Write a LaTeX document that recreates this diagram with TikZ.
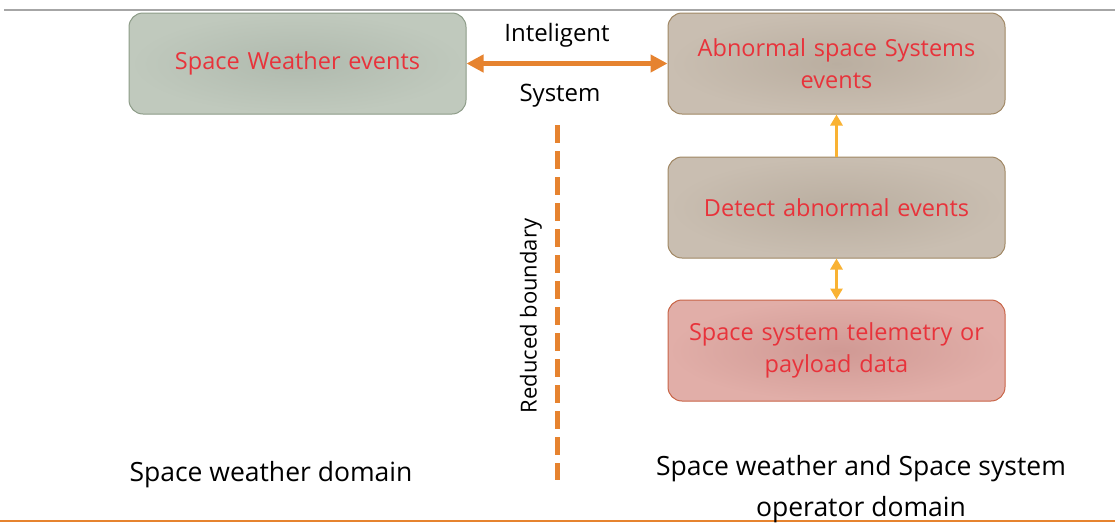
\documentclass[tikz,border=0pt]{standalone}
\usepackage{fontspec}
\setmainfont{Open Sans}
\usetikzlibrary{arrows.meta}
\definecolor{evred}{HTML}{E8333B}
\definecolor{linkorange}{HTML}{E6832F}
\definecolor{linkyellow}{HTML}{F9B233}
\tikzset{
  evbox/.style={rounded corners=14pt, minimum width=337pt, minimum height=101pt,
    text width=330pt, align=center, text=evred, line width=1pt,
    font=\fontsize{23.5}{32}\selectfont},
  greenbox/.style={evbox, draw={rgb,255:red,140;green,155;blue,135}, inner color={rgb,255:red,176;green,186;blue,174}, outer color={rgb,255:red,192;green,201;blue,189}},
  tanbox/.style={evbox, draw={rgb,255:red,160;green,135;blue,100}, inner color={rgb,255:red,186;green,174;blue,160}, outer color={rgb,255:red,201;green,190;blue,177}},
  pinkbox/.style={evbox, draw={rgb,255:red,200;green,100;blue,70}, inner color={rgb,255:red,208;green,153;blue,148}, outer color={rgb,255:red,225;green,174;blue,168}},
  plain/.style={font=\fontsize{24}{30}\selectfont, text=black, inner sep=0pt},
  bigdouble/.style={linkorange, line width=5pt, {Triangle[length=17pt,width=17pt]}-{Triangle[length=17pt,width=17pt]}},
  smallarrow/.style={linkyellow, line width=3.5pt},
  yhead/.tip={Triangle[length=11pt,width=12pt]}
}
\begin{document}
\begin{tikzpicture}[x=1pt,y=-1pt]
\useasboundingbox (0,0) rectangle (1115,523);
% frame rules
\draw[line width=1.5pt, black!35] (4,10) -- (1115,10);
\draw[line width=2pt, linkorange] (0,520.5) -- (1115,520.5);

% event boxes
\node[greenbox] (sw) at (297.5,63.5) {Space Weather events};
\node[tanbox] (ab) at (836.5,63.5) {Abnormal space Systems\\events};
\node[tanbox] (de) at (836.5,207.5) {Detect abnormal events};
\node[pinkbox] (tm) at (836.5,350.5) {Space system telemetry or\\payload data};

% connectors
\draw[bigdouble] (sw.east) -- (ab.west);
\draw[smallarrow, -yhead] (de.north) -- (ab.south);
\draw[smallarrow, yhead-yhead] (tm.north) -- (de.south);

% intelligent system label
\node[plain] (intel) at (557,35) {Inteligent};
\node[plain] (sys) at (560,96) {System};

% boundary
\coordinate (btop) at (557,125);
\coordinate (bbot) at (557,480);
\draw[linkorange, line width=5pt, dash pattern=on 18pt off 8pt] (btop) -- (bbot);
\node[plain, rotate=90, font=\fontsize{22}{26}\selectfont] (rb) at (531,316) {Reduced boundary};

% domain labels
\node[plain, font=\fontsize{26.5}{41}\selectfont] (swd) at (271,475) {Space weather domain};
\node[plain, align=center, font=\fontsize{26.5}{41}\selectfont] (opd) at (861,489) {Space weather and Space system\\operator domain};
\end{tikzpicture}
\end{document}
